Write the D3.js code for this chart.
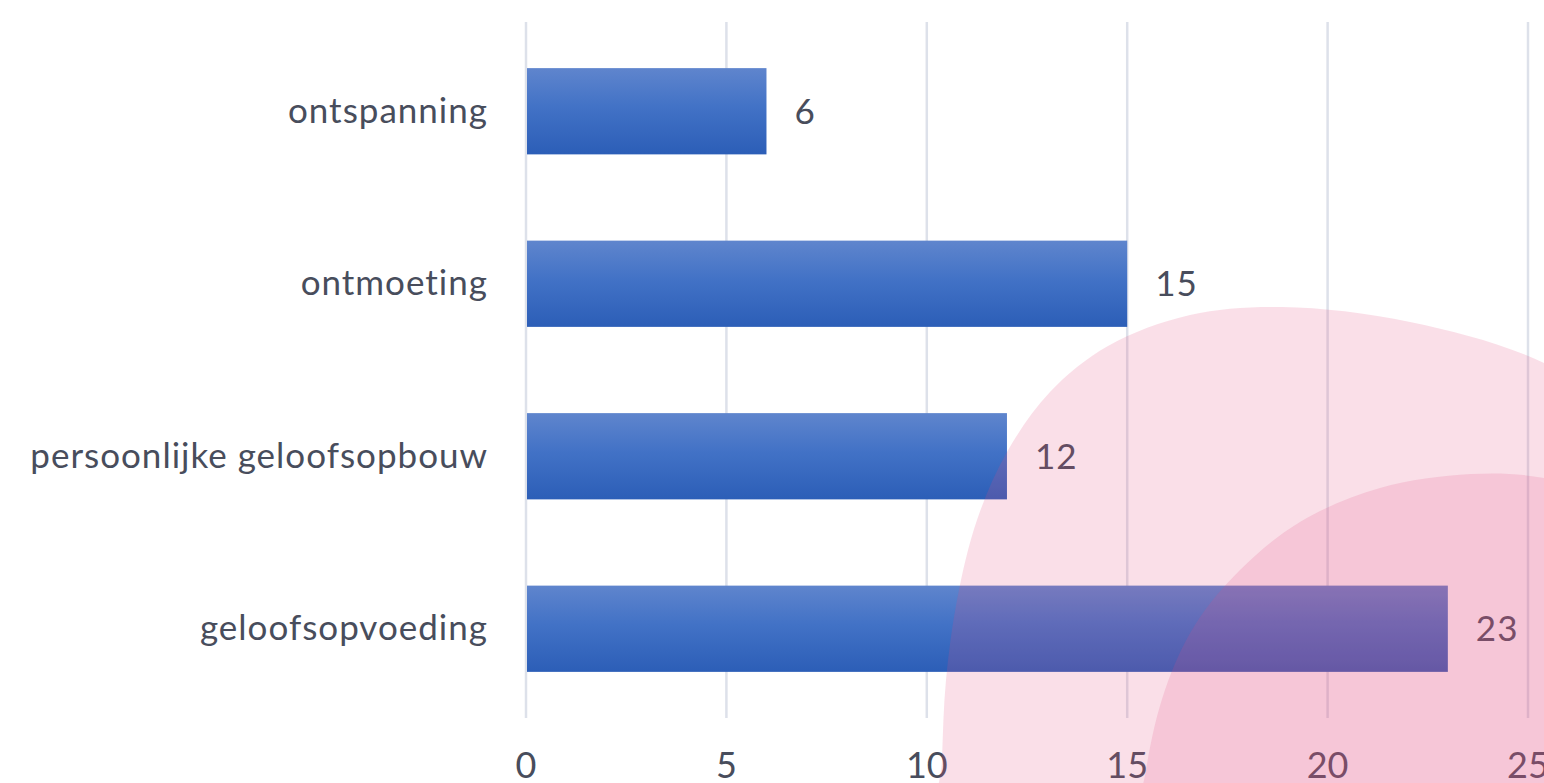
<!DOCTYPE html>
<html>
<head>
<meta charset="utf-8">
<script src="https://cdn.jsdelivr.net/npm/d3@7"></script>
<style>
  html, body { margin: 0; padding: 0; background: #fff; }
  svg text { font-family: Lato, "Noto Sans", sans-serif; }
</style>
</head>
<body>
<svg id="chart" width="1544" height="783"></svg>
<script>
// data
const categories = ['ontspanning', 'ontmoeting', 'persoonlijke geloofsopbouw', 'geloofsopvoeding']
const counts = [6, 15, 12, 23]
const xTicks = [0, 5, 10, 15, 20, 25]

const width = 1544
const height = 783
const margin = { left: 526, right: 16, top: 25, bottom: 68 }
const textColor = '#484d5c'

const svg = d3.select('#chart')

const x = d3.scaleLinear().domain([0, 25]).range([margin.left, width - margin.right])
const y = d3.scaleBand()
  .domain(categories)
  .range([margin.top, height - margin.bottom])
  .paddingInner(0.5)
  .paddingOuter(0.25)

const defs = svg.append('defs')
const grad = defs.append('linearGradient')
  .attr('id', 'barGrad')
  .attr('x1', 0).attr('y1', 0).attr('x2', 0).attr('y2', 1)
grad.append('stop').attr('offset', '0%').attr('stop-color', '#5f85cd')
grad.append('stop').attr('offset', '45%').attr('stop-color', '#4272c6')
grad.append('stop').attr('offset', '100%').attr('stop-color', '#2c5eb7')

// vertical grid lines
svg.append('g')
  .selectAll('line')
  .data(xTicks)
  .join('line')
  .attr('x1', (d) => x(d))
  .attr('x2', (d) => x(d))
  .attr('y1', 22)
  .attr('y2', 718)
  .attr('stroke', '#dde1ea')
  .attr('stroke-width', 2.5)

// bars
svg.append('g')
  .selectAll('rect')
  .data(categories)
  .join('rect')
  .attr('x', x(0) + 1)
  .attr('y', (d) => y(d))
  .attr('width', (d, i) => x(counts[i]) - x(0) - 1)
  .attr('height', y.bandwidth())
  .attr('fill', 'url(#barGrad)')

// value labels
svg.append('g')
  .selectAll('text')
  .data(categories)
  .join('text')
  .attr('x', (d, i) => x(counts[i]) + 28)
  .attr('y', (d) => y(d) + y.bandwidth() / 2)
  .attr('dy', '0.36em')
  .attr('font-size', 35)
  .attr('letter-spacing', 1)
  .attr('fill', textColor)
  .text((d, i) => counts[i])

// category labels
svg.append('g')
  .selectAll('text')
  .data(categories)
  .join('text')
  .attr('x', 488)
  .attr('y', (d) => y(d) + y.bandwidth() / 2)
  .attr('dy', '0.33em')
  .attr('text-anchor', 'end')
  .attr('font-size', 35)
  .attr('letter-spacing', 1)
  .attr('fill', textColor)
  .text((d) => d)

// x tick labels
svg.append('g')
  .selectAll('text')
  .data(xTicks)
  .join('text')
  .attr('x', (d) => x(d))
  .attr('y', 778)
  .attr('text-anchor', 'middle')
  .attr('font-size', 36)
  .attr('fill', textColor)
  .text((d) => d)

// decorative pink shapes over the chart
const blobLine = d3.line().curve(d3.curveCatmullRomClosed)
const blobA = [[940, 850], [942, 760], [946, 680], [957, 600], [977, 520], [1007, 452], [1050, 392],
  [1108, 346], [1190, 315], [1282, 307], [1410, 322], [1544, 363], [1660, 440],
  [1720, 620], [1690, 860], [1500, 920], [1150, 920]]
const blobB = [[1138, 860], [1146, 770], [1165, 690], [1195, 625], [1240, 570], [1300, 522], [1380, 488],
  [1471, 474], [1544, 478], [1650, 510], [1720, 680], [1690, 880], [1500, 930], [1260, 920]]

svg.append('path')
  .attr('d', blobLine(blobA))
  .attr('fill', 'rgb(225,80,130)')
  .attr('fill-opacity', 0.18)
svg.append('path')
  .attr('d', blobLine(blobB))
  .attr('fill', 'rgb(225,80,130)')
  .attr('fill-opacity', 0.17)
</script>
</body>
</html>
